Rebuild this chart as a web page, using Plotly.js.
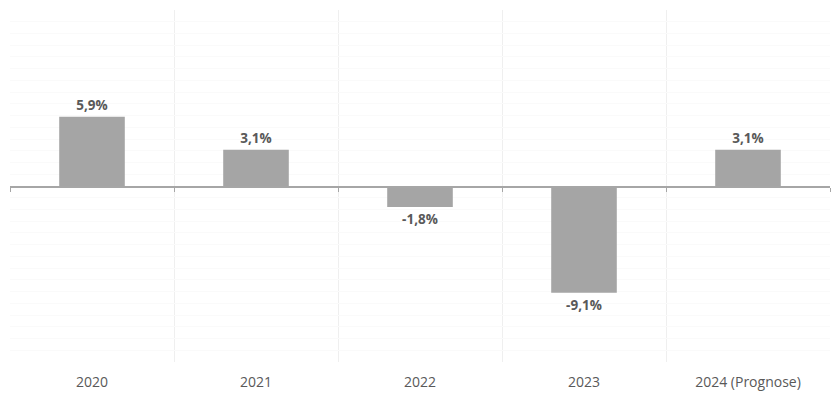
<!DOCTYPE html>
<html>
<head>
<meta charset="utf-8">
<script src="https://cdn.plot.ly/plotly-3.0.1.min.js"></script>
<style>html,body{margin:0;padding:0;background:#fff;}#chart{width:840px;height:397px;}</style>
</head>
<body>
<div id="chart"></div>
<script>
var categories = ["2020", "2021", "2022", "2023", "2024 (Prognose)"];
var values = [5.9, 3.1, -1.8, -9.1, 3.1];

var bars = {
  type: "bar",
  x: categories,
  y: values,
  xaxis: "x",
  yaxis: "y",
  width: 0.4,
  marker: {color: "#a5a5a5"},
  texttemplate: "%{y:.1f}%",
  textposition: "outside",
  cliponaxis: false,
  textfont: {family: "Open Sans, sans-serif", size: 13.5, color: "#595959", weight: "bold"},
  hoverinfo: "skip"
};
var axisHelper = {
  type: "scatter",
  mode: "markers",
  x: categories,
  y: categories.map(function(){return null;}),
  xaxis: "x2",
  yaxis: "y",
  hoverinfo: "skip",
  showlegend: false
};

var layout = {
  width: 840,
  height: 397,
  margin: {l: 10, r: 10, t: 10, b: 35},
  paper_bgcolor: "#ffffff",
  plot_bgcolor: "#ffffff",
  separators: ",.",
  showlegend: false,
  bargap: 0.6,
  font: {family: "Open Sans, sans-serif", color: "#595959", size: 14},
  xaxis: {
    type: "category",
    tickson: "boundaries",
    showgrid: true,
    gridcolor: "#efefef",
    gridwidth: 1,
    ticks: "",
    ticklabelstandoff: 10,
    showline: false,
    zeroline: false,
    tickfont: {size: 14, color: "#595959"},
    range: [-0.5, 4.5]
  },
  xaxis2: {
    type: "category",
    overlaying: "x",
    anchor: "free",
    position: 0.5,
    tickson: "boundaries",
    ticks: "outside",
    ticklen: 4,
    tickcolor: "#a6a6a6",
    showline: true,
    linecolor: "#a6a6a6",
    linewidth: 1.5,
    showgrid: false,
    showticklabels: false,
    zeroline: false,
    range: [-0.5, 4.5]
  },
  yaxis: {
    range: [-15, 15],
    dtick: 1,
    showgrid: true,
    gridcolor: "#fafafa",
    zeroline: false,
    showticklabels: false,
    ticks: ""
  }
};

Plotly.newPlot("chart", [bars, axisHelper], layout, {displayModeBar: false, staticPlot: true});
</script>
</body>
</html>
